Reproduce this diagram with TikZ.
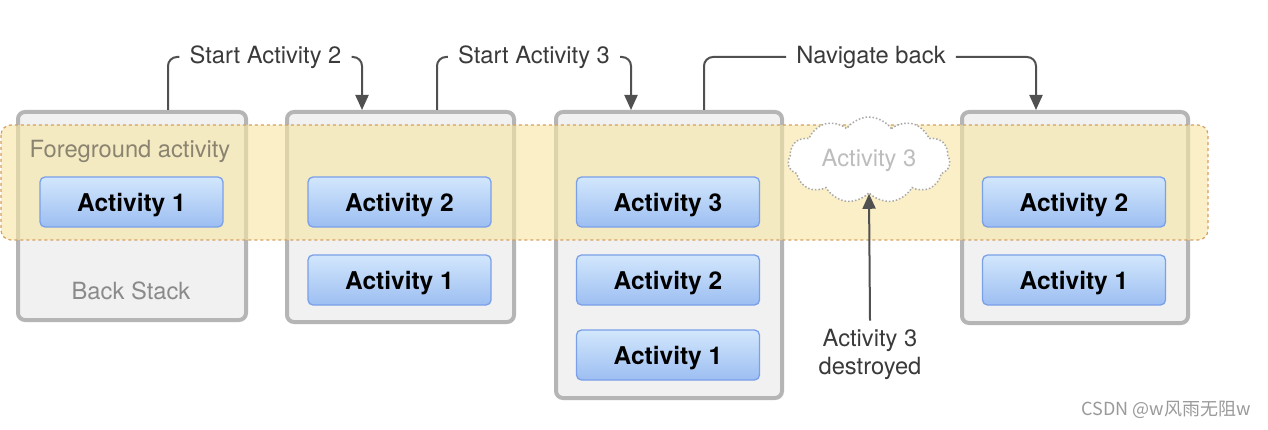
\documentclass[tikz,border=0pt]{standalone}
\usepackage{fontspec}
\setmainfont{TeX Gyre Heros}
\newfontfamily\cjkfont{Noto Sans CJK SC}
\usetikzlibrary{shapes.symbols,arrows.meta,calc}
\definecolor{boxborder}{HTML}{B5B5B5}
\definecolor{boxfill}{HTML}{F1F1F1}
\definecolor{bandfill}{HTML}{F7E6A6}
\definecolor{banddash}{HTML}{D6A060}
\definecolor{actborder}{HTML}{7AA0E8}
\definecolor{acttop}{HTML}{D2E7FC}
\definecolor{actbot}{HTML}{9DBEF2}
\definecolor{conncol}{HTML}{505050}
\definecolor{labcol}{HTML}{3A3A3A}
\definecolor{fgcol}{HTML}{8A8370}
\definecolor{bscol}{HTML}{8A8A8A}
\definecolor{ghost}{HTML}{BDBDBD}
\definecolor{cloudborder}{HTML}{A8A8A8}
\definecolor{wmcol}{HTML}{9A9A9A}
\tikzset{
  stackbox/.style={draw=boxborder, line width=4pt, fill=boxfill, rounded corners=7pt, inner sep=0pt},
  actbox/.style={draw=actborder, line width=1.3pt, top color=acttop, bottom color=actbot, rounded corners=5pt,
    minimum width=183pt, minimum height=50pt, inner sep=0pt, text depth=0pt,
    font=\fontsize{24.5}{28}\selectfont\bfseries, text=black},
  regtext/.style={font=\fontsize{23.7}{28}\selectfont},
  steplabel/.style={regtext, text=labcol, inner xsep=10pt, inner ysep=4pt},
  conn/.style={draw=conncol, line width=2pt, rounded corners=9pt},
  arr/.style={conn, -{Triangle[width=13pt,length=15pt]}},
}
\begin{document}
\begin{tikzpicture}[x=1pt,y=-1pt]
\useasboundingbox (0,0) rectangle (1268,430);
\fill[white] (0,0) rectangle (1268,430);
% stacks
\node[stackbox, minimum width=228pt, minimum height=208pt] (box1) at (132,216) {};
\node[stackbox, minimum width=227pt, minimum height=210pt] (box2) at (400.5,217) {};
\node[stackbox, minimum width=226pt, minimum height=286pt] (box3) at (669,255) {};
\node[stackbox, minimum width=226pt, minimum height=211pt] (box4) at (1075,217.5) {};
% foreground band
\draw[draw=banddash, dashed, dash pattern=on 3pt off 3pt, line width=1.2pt, fill=bandfill, fill opacity=0.62, rounded corners=10pt]
  (1,125) rectangle (1208,240);
\node[regtext, text=fgcol] (fg) at (130,151) {Foreground activity};
\node[regtext, text=bscol] (bs) at (131,291) {Back Stack};
% activities
\node[actbox] (a11) at (131.5,202) {Activity 1};
\node[actbox] (a22) at (399.5,202) {Activity 2};
\node[actbox] (a21) at (399.5,280) {Activity 1};
\node[actbox] (a33) at (668,202) {Activity 3};
\node[actbox] (a32) at (668,280) {Activity 2};
\node[actbox] (a31) at (668,355) {Activity 1};
\node[actbox] (a42) at (1074,202) {Activity 2};
\node[actbox] (a41) at (1074,280) {Activity 1};
% step labels
\node[steplabel] (l2) at (265.5,57) {Start Activity 2};
\node[steplabel] (l3) at (534,57) {Start Activity 3};
\node[steplabel] (lb) at (871,57) {Navigate back};
\draw[conn] ([xshift=36pt]box1.north) |- (l2.west);
\draw[arr] (l2.east) -| ([xshift=-38.5pt]box2.north);
\draw[conn] ([xshift=36.5pt]box2.north) |- (l3.west);
\draw[arr] (l3.east) -| ([xshift=-38pt]box3.north);
\draw[conn] ([xshift=35pt]box3.north) |- (lb.west);
\draw[arr] (lb.east) -| ([xshift=-39pt]box4.north);
% destroyed activity
\node[cloud, cloud puffs=11, cloud puff arc=110, aspect=2.1, draw=cloudborder, dotted, line width=1.5pt, fill=white,
  minimum width=162pt, minimum height=86pt, inner sep=0pt, regtext, text=ghost] (cl) at (869,160) {Activity 3};
\node[font=\fontsize{23.7}{28}\selectfont, text=labcol, align=center, inner ysep=8pt] (dest) at (870,354) {Activity 3\\destroyed};
\draw[arr] (dest.north) -- (cl.south);
% watermark
\node[font=\cjkfont\fontsize{18}{20}\selectfont, text=wmcol, anchor=east] (wm) at (1254,410) {CSDN @w风雨无阻w};
\end{tikzpicture}
\end{document}
